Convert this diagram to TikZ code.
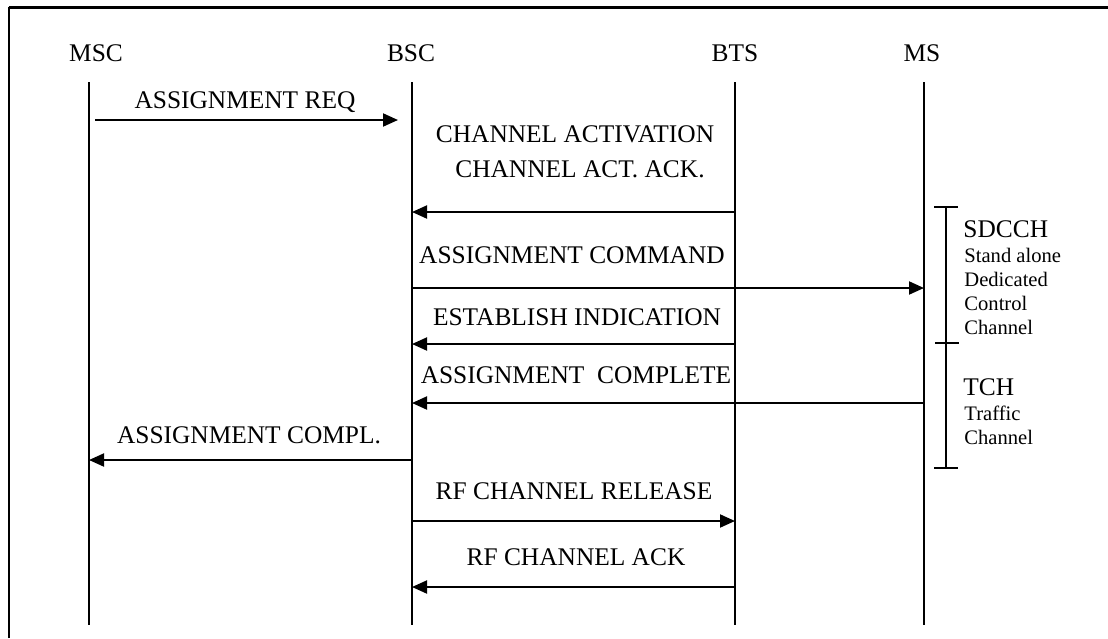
\documentclass[tikz,border=0pt]{standalone}
\usepackage{fontspec}
\setmainfont{Liberation Serif}
\usetikzlibrary{arrows.meta}

\tikzstyle{entity}=[inner sep=0pt,anchor=base,font=\fontsize{12.7}{15}\selectfont]
\tikzstyle{msglabel}=[entity]
\tikzstyle{channame}=[entity,anchor=base west]
\tikzstyle{chantext}=[inner sep=0pt,anchor=north west,align=left,font=\fontsize{10.3}{12}\selectfont]
\tikzstyle{lifeline}=[line width=1pt]
\tikzstyle{msg}=[line width=1pt,-{Triangle[length=7.5pt,width=6.5pt]}]
\tikzstyle{tick}=[line width=1pt]

\begin{document}
\begin{tikzpicture}[x=0.5pt,y=-0.5pt]
\useasboundingbox (0,0) rectangle (1108,638);
% frame
\draw[line width=1pt] (9,638) -- (9,7);
\draw[line width=1.5pt] (8.5,7.5) -- (1108,7.5);
% entities
\node[entity] (msc) at (96,61)  {MSC};
\node[entity] (bsc) at (411,61) {BSC};
\node[entity] (bts) at (735,61) {BTS};
\node[entity] (ms)  at (922,61) {MS};
% lifelines
\coordinate (msc top) at (89,82);  \coordinate (msc bot) at (89,625);
\coordinate (bsc top) at (412,82); \coordinate (bsc bot) at (412,625);
\coordinate (bts top) at (735,82); \coordinate (bts bot) at (735,625);
\coordinate (ms top)  at (924,82); \coordinate (ms bot)  at (924,625);
\draw[lifeline] (msc top) -- (msc bot);
\draw[lifeline] (bsc top) -- (bsc bot);
\draw[lifeline] (bts top) -- (bts bot);
\draw[lifeline] (ms top) -- (ms bot);
% messages
\node[msglabel] (req) at (245,108) {ASSIGNMENT REQ};
\coordinate (req y) at (0,120);
\draw[msg,shorten <=3pt,shorten >=7pt] (msc top |- req y) -- (bsc top |- req y);

\node[msglabel] (chact) at (575,142) {CHANNEL ACTIVATION};
\node[msglabel] (chack) at (580,177) {CHANNEL ACT. ACK.};
\coordinate (chack y) at (0,212);
\draw[msg] (bts top |- chack y) -- (bsc top |- chack y);

\node[msglabel] (cmd) at (572,263) {ASSIGNMENT COMMAND};
\coordinate (cmd y) at (0,288);
\draw[msg] (bsc top |- cmd y) -- (ms top |- cmd y);

\node[msglabel] (estind) at (577,325) {ESTABLISH INDICATION};
\coordinate (estind y) at (0,344);
\draw[msg] (bts top |- estind y) -- (bsc top |- estind y);

\node[msglabel] (cmpl) at (576,383) {ASSIGNMENT\ \ COMPLETE};
\coordinate (cmpl y) at (0,403);
\draw[msg] (ms top |- cmpl y) -- (bsc top |- cmpl y);

\node[msglabel] (acompl) at (249,443) {ASSIGNMENT COMPL.};
\coordinate (acompl y) at (0,460);
\draw[msg] (bsc top |- acompl y) -- (msc top |- acompl y);

\node[msglabel] (rfrel) at (574,499) {RF CHANNEL RELEASE};
\coordinate (rfrel y) at (0,521);
\draw[msg] (bsc top |- rfrel y) -- (bts top |- rfrel y);

\node[msglabel] (rfack) at (576,565) {RF CHANNEL ACK};
\coordinate (rfack y) at (0,587);
\draw[msg] (bts top |- rfack y) -- (bsc top |- rfack y);
% channel bracket
\coordinate (sd top)  at (946,207);
\coordinate (sd mid)  at (946,343);
\coordinate (tch bot) at (946,468);
\draw[lifeline] (sd top) -- (tch bot);
\draw[tick] ([xshift=-6pt]sd top) -- ([xshift=6pt]sd top);
\draw[tick] ([xshift=-5.5pt]sd mid) -- ([xshift=6.5pt]sd mid);
\draw[tick] ([xshift=-6pt]tch bot) -- ([xshift=6pt]tch bot);
\node[channame] (sdcch) at (963,237) {SDCCH};
\node[chantext] (sdcch txt) at (964,248) {Stand alone\\Dedicated\\Control\\Channel};
\node[channame] (tch) at (963,395) {TCH};
\node[chantext] (tch txt) at (964,406) {Traffic\\Channel};
\end{tikzpicture}
\end{document}
